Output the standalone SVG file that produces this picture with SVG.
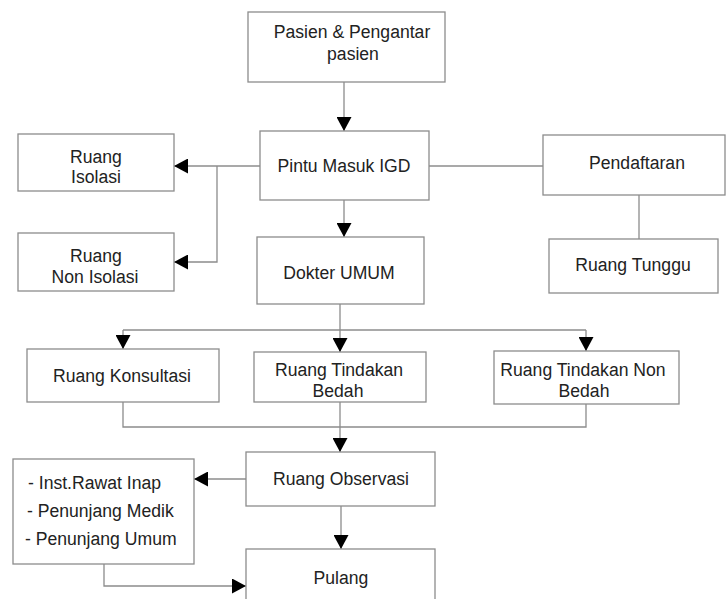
<svg xmlns="http://www.w3.org/2000/svg" width="726" height="599" viewBox="0 0 726 599">
  <style>
    .box { fill: #ffffff; stroke: #8c8c8c; stroke-width: 1.3; }
    .lbl { font-family: "Liberation Sans", Arial, sans-serif; font-size: 17.6px; fill: #222222; text-anchor: middle; }
    .lft { text-anchor: start; }
    .wire { fill: none; stroke: #8c8c8c; stroke-width: 1.3; }
    .arr { marker-end: url(#head); }
  </style>
  <defs>
    <marker id="head" markerUnits="userSpaceOnUse" markerWidth="15" markerHeight="15" refX="14" refY="7.5" orient="auto" viewBox="0 0 15 15">
      <path d="M0,0 L14,7.5 L0,15 Z" fill="#000000"/>
    </marker>
  </defs>
  <rect width="726" height="599" fill="#ffffff"/>

  <!-- connectors -->
  <g id="connectors">
    <path class="wire arr" d="M344,82 V131"/>
    <path class="wire arr" d="M260,166 H174"/>
    <path class="wire arr" d="M217,166 V262 H174"/>
    <path class="wire" d="M429,166 H543"/>
    <path class="wire" d="M639,195 V239"/>
    <path class="wire arr" d="M344,200 V237"/>
    <path class="wire arr" d="M340,304 V352"/>
    <path class="wire" d="M123,330 H586"/>
    <path class="wire arr" d="M123,330 V349"/>
    <path class="wire arr" d="M586,330 V351"/>
    <path class="wire" d="M123,402 V427 H586 V404"/>
    <path class="wire" d="M340,402 V427"/>
    <path class="wire arr" d="M340,427 V452"/>
    <path class="wire arr" d="M246,479 H194"/>
    <path class="wire arr" d="M341,506 V549"/>
    <path class="wire arr" d="M104,564 V586 H246"/>
  </g>

  <!-- nodes -->
  <g id="pasien">
    <rect class="box" x="248" y="12" width="197" height="70"/>
    <text class="lbl" x="352" y="38">Pasien &amp; Pengantar</text>
    <text class="lbl" x="353" y="59.5">pasien</text>
  </g>
  <g id="pintu-masuk">
    <rect class="box" x="260" y="131" width="169" height="69"/>
    <text class="lbl" x="344" y="172">Pintu Masuk IGD</text>
  </g>
  <g id="ruang-isolasi">
    <rect class="box" x="18" y="134" width="156" height="57"/>
    <text class="lbl" x="96" y="162.5">Ruang</text>
    <text class="lbl" x="96" y="183">Isolasi</text>
  </g>
  <g id="ruang-non-isolasi">
    <rect class="box" x="18" y="233" width="156" height="58"/>
    <text class="lbl" x="96" y="261.5">Ruang</text>
    <text class="lbl" x="95" y="282.5">Non Isolasi</text>
  </g>
  <g id="pendaftaran">
    <rect class="box" x="543" y="135" width="182" height="60"/>
    <text class="lbl" x="637" y="168.5">Pendaftaran</text>
  </g>
  <g id="ruang-tunggu">
    <rect class="box" x="549" y="239" width="169" height="54"/>
    <text class="lbl" x="633" y="270.5">Ruang Tunggu</text>
  </g>
  <g id="dokter-umum">
    <rect class="box" x="257" y="237" width="167" height="67"/>
    <text class="lbl" x="339" y="278.5">Dokter UMUM</text>
  </g>
  <g id="ruang-konsultasi">
    <rect class="box" x="27" y="349" width="192" height="53"/>
    <text class="lbl" x="122" y="381.5">Ruang Konsultasi</text>
  </g>
  <g id="tindakan-bedah">
    <rect class="box" x="254" y="352" width="172" height="50"/>
    <text class="lbl" x="339" y="376">Ruang Tindakan</text>
    <text class="lbl" x="338" y="396.5">Bedah</text>
  </g>
  <g id="tindakan-non-bedah">
    <rect class="box" x="494" y="351" width="185" height="53"/>
    <text class="lbl" x="583" y="376">Ruang Tindakan Non</text>
    <text class="lbl" x="584" y="396.5">Bedah</text>
  </g>
  <g id="ruang-observasi">
    <rect class="box" x="246" y="452" width="189" height="54"/>
    <text class="lbl" x="341" y="485">Ruang Observasi</text>
  </g>
  <g id="rujukan">
    <rect class="box" x="13" y="459" width="181" height="105"/>
    <text class="lbl lft" x="28" y="489">- Inst.Rawat Inap</text>
    <text class="lbl lft" x="27" y="516.5">- Penunjang Medik</text>
    <text class="lbl lft" x="25" y="545">- Penunjang Umum</text>
  </g>
  <g id="pulang">
    <rect class="box" x="246" y="549" width="189" height="60"/>
    <text class="lbl" x="341" y="583.5">Pulang</text>
  </g>
</svg>
